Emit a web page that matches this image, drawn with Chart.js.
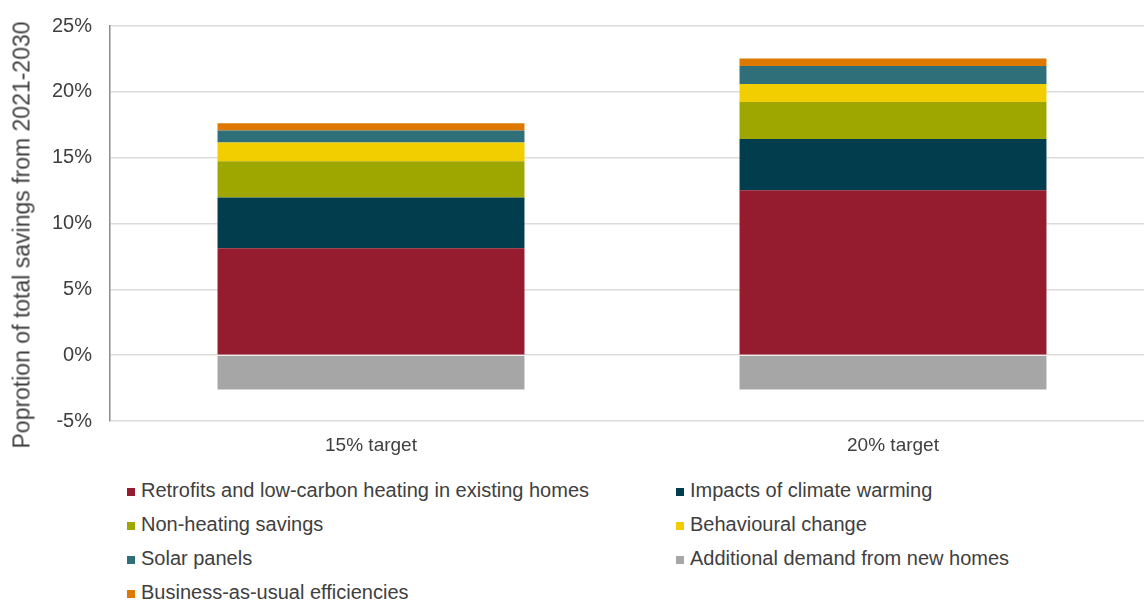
<!DOCTYPE html>
<html>
<head>
<meta charset="utf-8">
<script src="https://cdn.jsdelivr.net/npm/chart.js@4/dist/chart.umd.min.js"></script>
<style>
  html, body { margin: 0; padding: 0; background: #fff; overflow: hidden; }
  #wrap { position: relative; width: 1144px; height: 601px; overflow: hidden; font-family: "Liberation Sans", Arial, sans-serif; color: #404040; }
  #chartBox { position: absolute; left: 0; top: -4px; width: 1160px; height: 475px; }
  #ytitle { position: absolute; left: 22px; top: 235px; white-space: nowrap; font-size: 23px; transform: translate(-50%, -50%) rotate(-90deg); }
  .leg { position: absolute; font-size: 20px; white-space: nowrap; line-height: 22px; }
  .leg i { display: inline-block; width: 8px; height: 8px; margin-right: 6px; vertical-align: 1px; }
</style>
</head>
<body>
<div id="wrap">
  <div id="chartBox"><canvas id="savings" width="1160" height="475"></canvas></div>
  <div id="ytitle">Poprotion of total savings from 2021-2030</div>
  <div id="legend"></div>
</div>
<script>
// categories and values (% of total savings)
var categories = ['15% target', '20% target'];
var retrofits   = [8.12, 12.53];
var climate     = [3.85, 3.89];
var nonHeating  = [2.75, 2.80];
var behavioural = [1.43, 1.38];
var solar       = [0.91, 1.36];
var bau         = [0.55, 0.58];
var newHomes    = [-2.6, -2.6];
var yTicks      = [-5, 0, 5, 10, 15, 20, 25];

var series = [
  { label: 'Retrofits and low-carbon heating in existing homes', data: retrofits,   color: '#951b2f' },
  { label: 'Impacts of climate warming',                         data: climate,     color: '#023d4d' },
  { label: 'Non-heating savings',                                data: nonHeating,  color: '#9ea700' },
  { label: 'Behavioural change',                                 data: behavioural, color: '#f2cd00' },
  { label: 'Solar panels',                                       data: solar,       color: '#2e6f79' },
  { label: 'Additional demand from new homes',                   data: newHomes,    color: '#a6a6a6' },
  { label: 'Business-as-usual efficiencies',                     data: bau,         color: '#dd7800' }
];

var datasets = series.map(function(s) {
  return {
    label: s.label,
    data: s.data,
    backgroundColor: s.color,
    borderWidth: 0,
    categoryPercentage: 1,
    barPercentage: 0.588
  };
});

var ctx = document.getElementById('savings').getContext('2d');
var chart = new Chart(ctx,
{
  type: 'bar',
  data: { labels: categories, datasets: datasets },
  options:
  {
    responsive: false,
    animation: false,
    layout: { padding: { top: 21, right: 6, left: 0, bottom: 0 } },
    plugins: { legend: { display: false }, tooltip: { enabled: false } },
    scales:
    {
      x:
      {
        stacked: true,
        grid: { display: false, drawTicks: false },
        border: { display: false },
        ticks: { color: '#404040', padding: 13, font: { family: 'Liberation Sans', size: 19 } },
        afterFit: function(scale) { scale.height = 50; }
      },
      y:
      {
        stacked: true,
        min: yTicks[0],
        max: yTicks[yTicks.length - 1],
        afterBuildTicks: function(scale) { scale.ticks = yTicks.map(function(v) { return { value: v }; }); },
        grid: { color: '#dedbd9', lineWidth: 1.5, drawTicks: false },
        border: { display: true, color: '#8c8c8c', width: 1.5 },
        ticks: {
          color: '#404040', padding: 18,
          font: { family: 'Liberation Sans', size: 20 },
          callback: function(v) { return v + '%'; }
        },
        afterFit: function(scale) { scale.width = 110; }
      }
    }
  }
});

// legend, two columns, in the reference order
var legend = document.getElementById('legend');
var colX = [127, 676];
var rowY = [479, 513, 547, 581];
series.forEach(function(s, i) {
  var d = document.createElement('div');
  d.className = 'leg';
  d.style.left = colX[i % 2] + 'px';
  d.style.top = rowY[Math.floor(i / 2)] + 'px';
  d.innerHTML = '<i style="background:' + s.color + '"></i>' + s.label;
  legend.appendChild(d);
});
</script>
</body>
</html>
